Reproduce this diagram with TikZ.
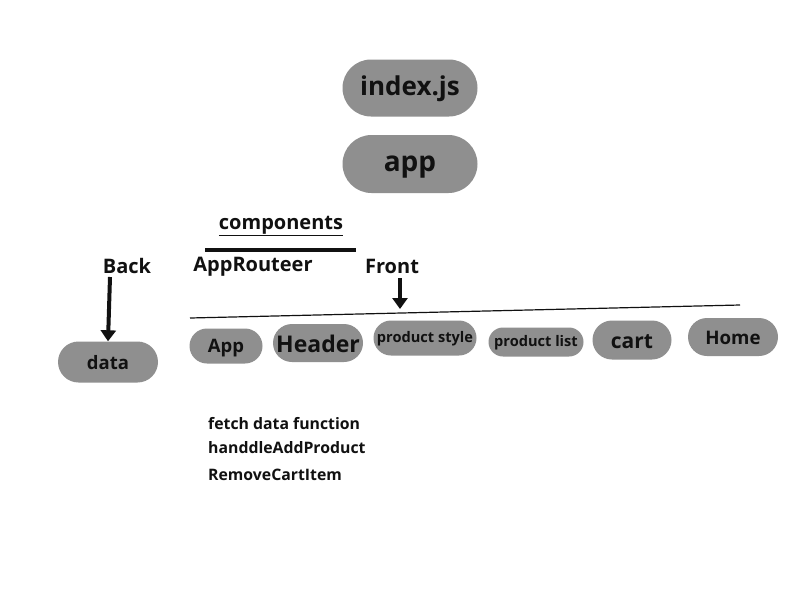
\documentclass[tikz,border=0pt]{standalone}
\usepackage{fontspec}
\setmainfont{Open Sans}
\usetikzlibrary{arrows.meta}
\definecolor{pillgray}{HTML}{8F8F8F}
\definecolor{ink}{HTML}{111111}
\tikzset{
  pill/.style={fill=pillgray, inner sep=0pt},
  lbl/.style={text=ink, font=\bfseries, inner sep=0pt},
  bigarrow/.style={line width=4pt, draw=ink, -{Triangle[length=11pt,width=15pt]}},
}
\newcommand{\fs}[1]{\fontsize{#1}{#1}\selectfont}
\begin{document}
\begin{tikzpicture}[x=1pt,y=-1pt]
\useasboundingbox (0,0) rectangle (800,600);
\fill[white] (0,0) rectangle (800,600);

\node[pill, minimum width=135pt, minimum height=57pt, rounded corners=28.5pt] (index) at (410,88) {};
\node[lbl] (indextext) at (410,89) {\fs{26}index.js};
\node[pill, minimum width=135pt, minimum height=58pt, rounded corners=29pt] (app) at (410,164) {};
\node[lbl] (apptext) at (410,167) {\fs{28}app};

\node[lbl] (comp) at (281,226) {\fs{20}\underline{components}};
\coordinate (bl) at (205,250);
\coordinate (br) at (356,250);
\draw[line width=4pt, ink] (bl) -- (br);

\node[lbl] (back) at (127,266) {\fs{20}Back};
\node[lbl] (router) at (253,267) {\fs{20}AppRouteer};
\node[lbl] (front) at (392,266) {\fs{20}Front};

\node[pill, minimum width=100pt, minimum height=41pt, rounded corners=20.5pt] (data) at (108,362) {};
\node[lbl] (datatext) at (108,363) {\fs{18.5}data};

\coordinate (b1) at (110,277);
\draw[bigarrow] (b1) -- (data.north);

\coordinate (f1) at (400,278);
\coordinate (f2) at (400,309);
\draw[bigarrow] (f1) -- (f2);

\coordinate (l1) at (190,318);
\coordinate (l2) at (740,305);
\draw[line width=1.2pt, ink] (l1) -- (l2);

\node[pill, minimum width=73pt, minimum height=35pt, rounded corners=17.5pt] (appc) at (226,346) {};
\node[lbl] (appctext) at (226,348) {\fs{18.5}App};
\node[pill, minimum width=90pt, minimum height=38pt, rounded corners=19pt] (header) at (318,343) {};
\node[lbl] (headertext) at (318,344) {\fs{23}Header};
\node[pill, minimum width=103pt, minimum height=35pt, rounded corners=17.5pt] (pstyle) at (425,338) {};
\node[lbl] (pstyletext) at (425,339) {\fs{14.6}product style};
\node[pill, minimum width=95pt, minimum height=29pt, rounded corners=14.5pt] (plist) at (536,342) {};
\node[lbl] (plisttext) at (536,343) {\fs{14.6}product list};
\node[pill, minimum width=79pt, minimum height=39pt, rounded corners=19.5pt] (cart) at (632,340) {};
\node[lbl] (carttext) at (632,342) {\fs{21}cart};
\node[pill, minimum width=90pt, minimum height=38pt, rounded corners=19pt] (home) at (733,337) {};
\node[lbl] (hometext) at (733,338) {\fs{18.7}Home};

\node[lbl, anchor=west] (fetch) at (208,424) {\fs{15.8}fetch data function};
\node[lbl, anchor=west] (handle) at (208,448) {\fs{15.8}handdleAddProduct};
\node[lbl, anchor=west] (remove) at (208,475) {\fs{15.8}RemoveCartItem};
\end{tikzpicture}
\end{document}
